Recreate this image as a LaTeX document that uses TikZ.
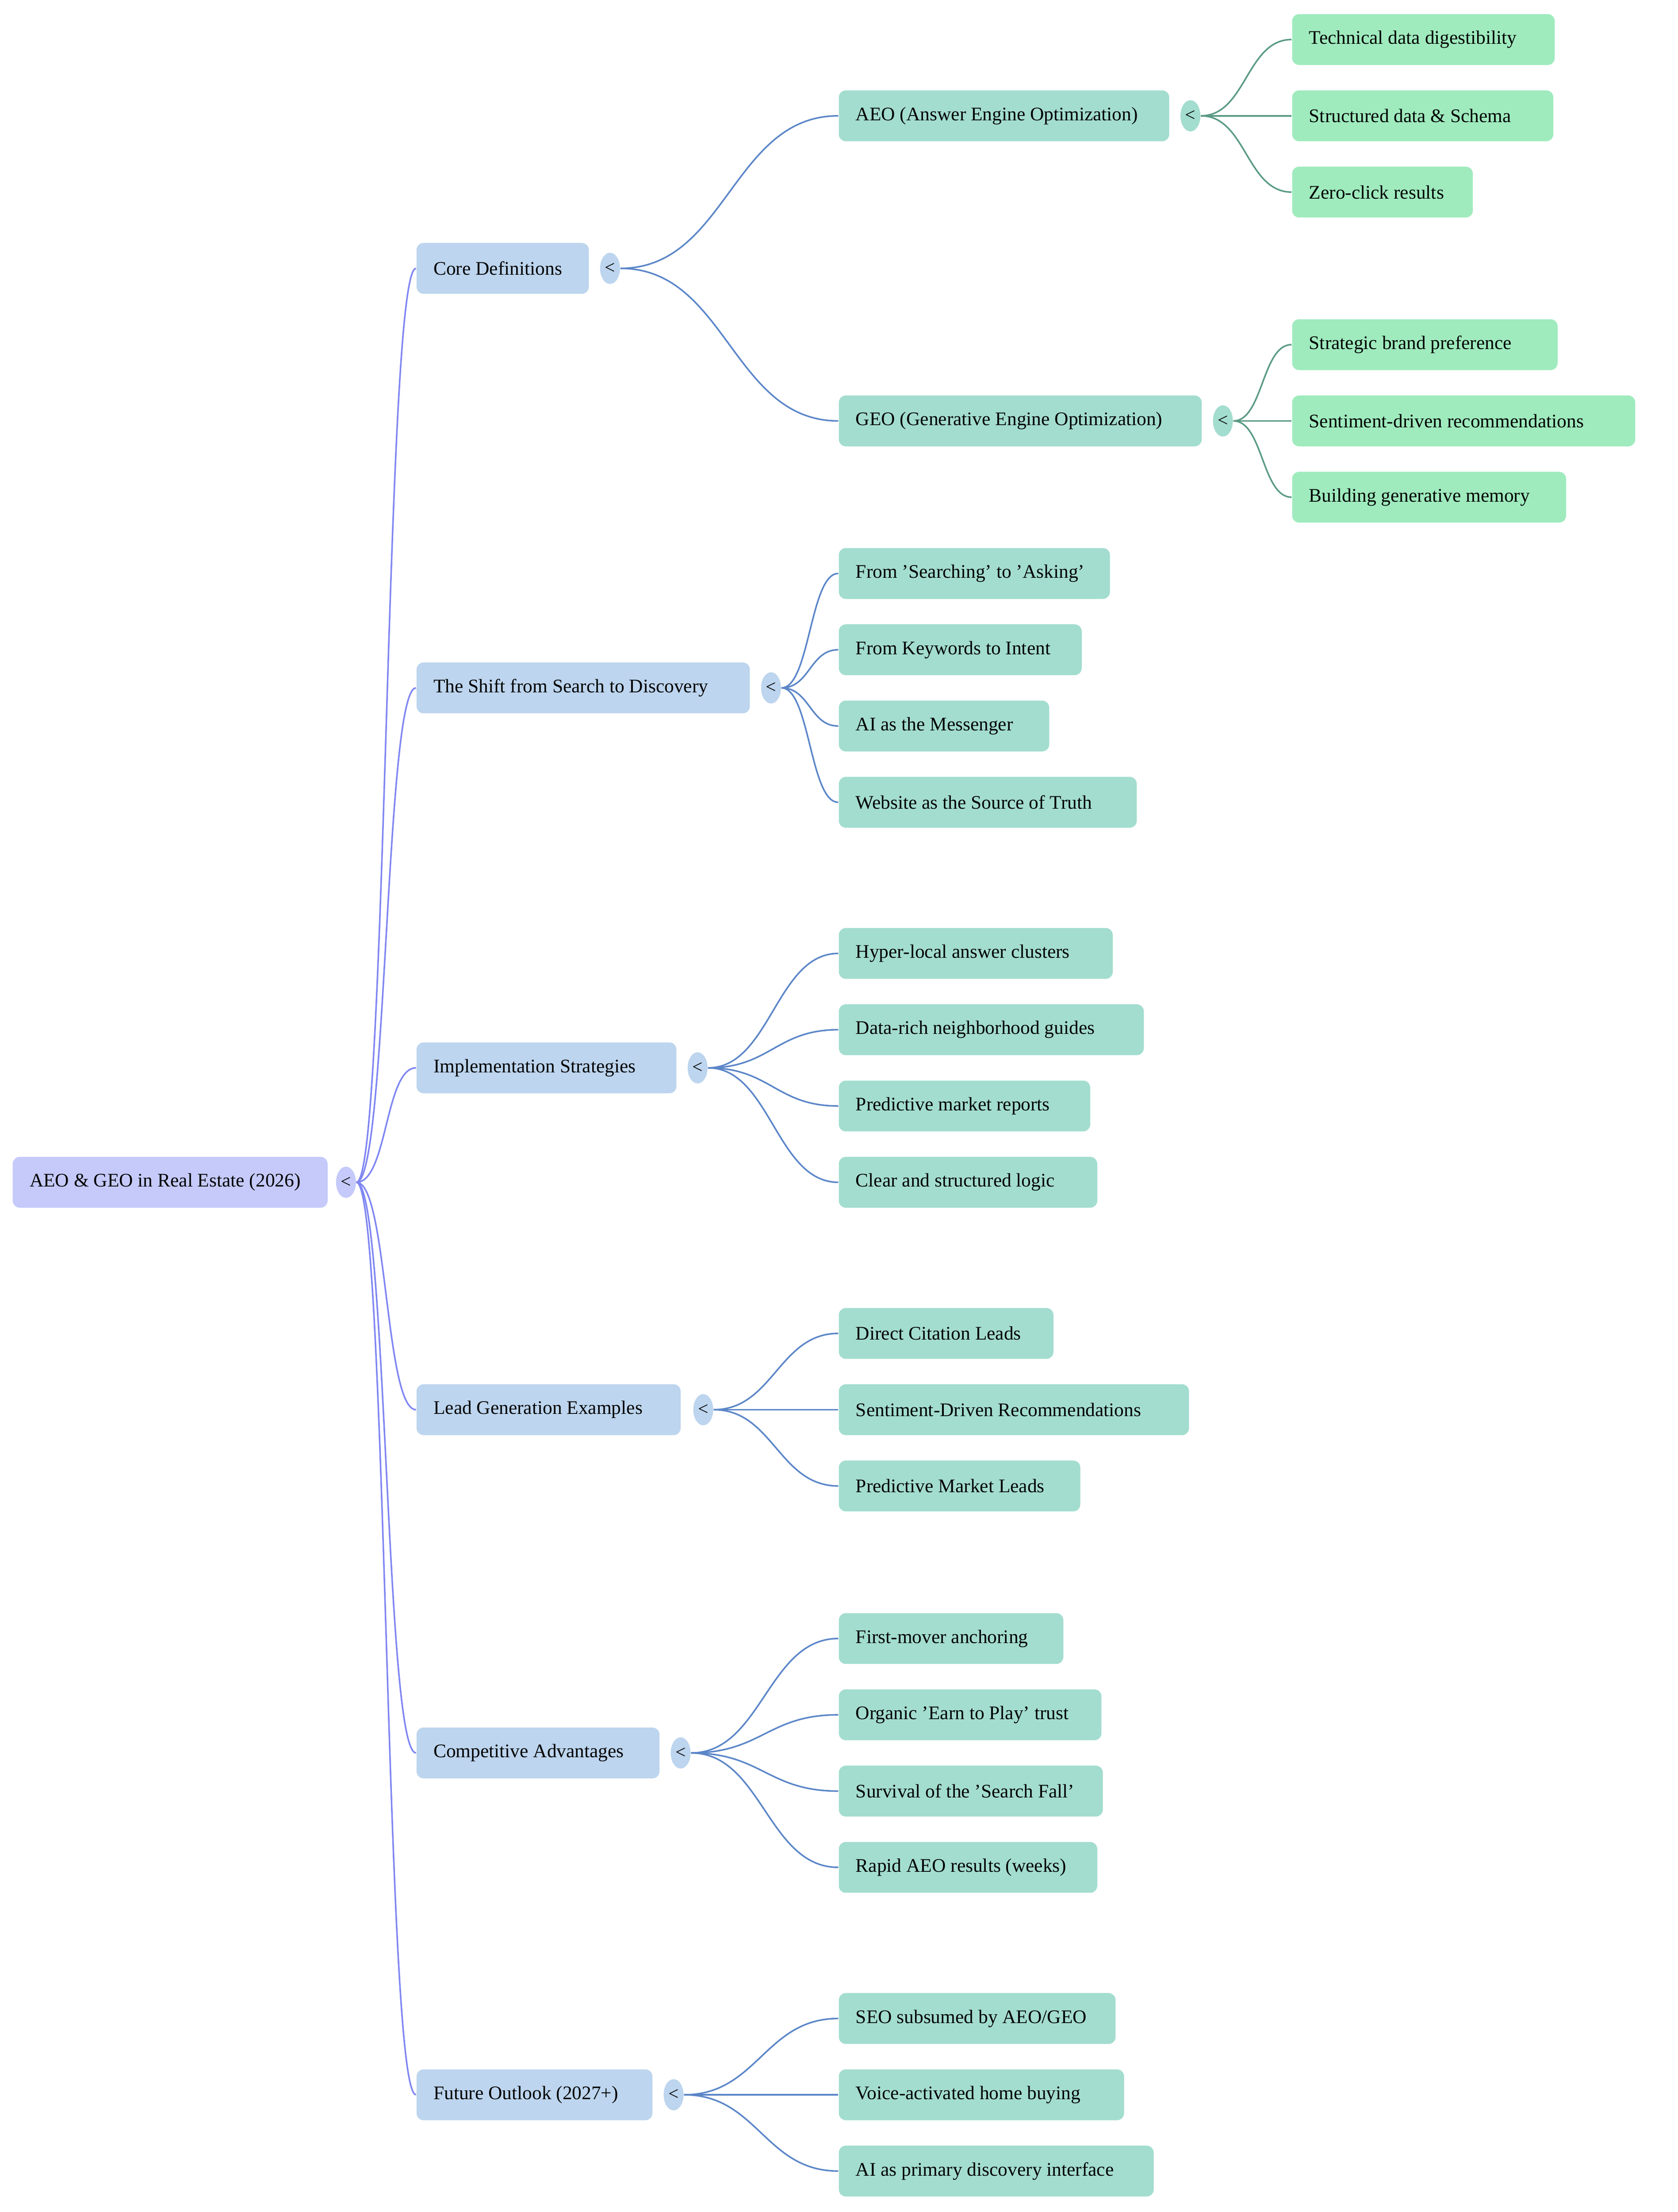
\documentclass[tikz,border=0pt]{standalone}
\usepackage{fontspec}
\setmainfont{Liberation Serif}
\usetikzlibrary{fit,shapes.geometric}
\definecolor{rootf}{HTML}{C5CAFB}
\definecolor{rootl}{HTML}{7F86F2}
\definecolor{lonef}{HTML}{BDD5EE}
\definecolor{lonel}{HTML}{5B86C8}
\definecolor{ltwof}{HTML}{A3DDCF}
\definecolor{ltwol}{HTML}{5A9A85}
\definecolor{lthrf}{HTML}{9FEBBE}
\tikzset{
  box/.style={rounded corners=2.5pt, inner sep=0pt, draw=none},
  lab/.style={anchor=west, inner sep=0pt, font=\fontsize{6.8}{8}\selectfont},
  cir/.style={ellipse, inner sep=0pt, minimum width=7pt, minimum height=11pt, font=\fontsize{6.5}{7}\selectfont},
  e0/.style={draw=rootl, line width=0.55pt},
  e1/.style={draw=lonel, line width=0.55pt},
  e2/.style={draw=ltwol, line width=0.55pt},
}
% \mybox{name}{x1}{x2}{yc}{fill}{text}
\newcommand{\mybox}[6]{%
  \node[box, fill=#5, fit={(#2,#4-18)(#3,#4+18)}] (#1) {};
  \node[lab] (#1-t) at ($(#1.west)+(12,0)$) {#6};}
\newcommand{\mycir}[4]{\node[cir, fill=#4] (#1) at (#2,#3) {<};}
\usetikzlibrary{calc}
\begin{document}
\begin{tikzpicture}[x=0.5pt,y=-0.5pt]
\useasboundingbox (0,0) rectangle (1188.2,1566);
% root
\mybox{root}{9}{232}{837}{rootf}{AEO \& GEO in Real Estate (2026)}
\mycir{croot}{245}{837}{rootf}
% level 1
\mybox{core}{295}{417}{190}{lonef}{Core Definitions}
\mycir{ccore}{432}{190}{lonef}
\mybox{shift}{295}{531}{487}{lonef}{The Shift from Search to Discovery}
\mycir{cshift}{546}{487}{lonef}
\mybox{impl}{295}{479}{756}{lonef}{Implementation Strategies}
\mycir{cimpl}{494}{756}{lonef}
\mybox{lead}{295}{482}{998}{lonef}{Lead Generation Examples}
\mycir{clead}{498}{998}{lonef}
\mybox{comp}{295}{467}{1241}{lonef}{Competitive Advantages}
\mycir{ccomp}{482}{1241}{lonef}
\mybox{fut}{295}{462}{1483}{lonef}{Future Outlook (2027+)}
\mycir{cfut}{477}{1483}{lonef}
% level 2 under core
\mybox{aeo}{594}{828}{82}{ltwof}{AEO (Answer Engine Optimization)}
\mycir{caeo}{843}{82}{ltwof}
\mybox{geo}{594}{851}{298}{ltwof}{GEO (Generative Engine Optimization)}
\mycir{cgeo}{866}{298}{ltwof}
% level 3
\mybox{a1}{915}{1101}{28}{lthrf}{Technical data digestibility}
\mybox{a2}{915}{1100}{82}{lthrf}{Structured data \& Schema}
\mybox{a3}{915}{1043}{136}{lthrf}{Zero-click results}
\mybox{g1}{915}{1103}{244}{lthrf}{Strategic brand preference}
\mybox{g2}{915}{1158}{298}{lthrf}{Sentiment-driven recommendations}
\mybox{g3}{915}{1109}{352}{lthrf}{Building generative memory}
% shift children
\mybox{s1}{594}{786}{406}{ltwof}{From 'Searching' to 'Asking'}
\mybox{s2}{594}{766}{460}{ltwof}{From Keywords to Intent}
\mybox{s3}{594}{743}{514}{ltwof}{AI as the Messenger}
\mybox{s4}{594}{805}{568}{ltwof}{Website as the Source of Truth}
% impl children
\mybox{i1}{594}{788}{675}{ltwof}{Hyper-local answer clusters}
\mybox{i2}{594}{810}{729}{ltwof}{Data-rich neighborhood guides}
\mybox{i3}{594}{772}{783}{ltwof}{Predictive market reports}
\mybox{i4}{594}{777}{837}{ltwof}{Clear and structured logic}
% lead children
\mybox{l1}{594}{746}{944}{ltwof}{Direct Citation Leads}
\mybox{l2}{594}{842}{998}{ltwof}{Sentiment-Driven Recommendations}
\mybox{l3}{594}{765}{1052}{ltwof}{Predictive Market Leads}
% comp children
\mybox{k1}{594}{753}{1160}{ltwof}{First-mover anchoring}
\mybox{k2}{594}{780}{1214}{ltwof}{Organic 'Earn to Play' trust}
\mybox{k3}{594}{781}{1268}{ltwof}{Survival of the 'Search Fall'}
\mybox{k4}{594}{777}{1322}{ltwof}{Rapid AEO results (weeks)}
% future children
\mybox{f1}{594}{790}{1429}{ltwof}{SEO subsumed by AEO/GEO}
\mybox{f2}{594}{796}{1483}{ltwof}{Voice-activated home buying}
\mybox{f3}{594}{817}{1537}{ltwof}{AI as primary discovery interface}
% edges
\foreach \n in {core,shift,impl,lead,comp,fut}
  \draw[e0] (croot.east) .. controls +(22,0) and +(-22,0) .. (\n.west);
\foreach \n in {aeo,geo}
  \draw[e1] (ccore.east) .. controls +(75,0) and +(-75,0) .. (\n.west);
\foreach \n in {a1,a2,a3}
  \draw[e2] (caeo.east) .. controls +(32,0) and +(-32,0) .. (\n.west);
\foreach \n in {g1,g2,g3}
  \draw[e2] (cgeo.east) .. controls +(21,0) and +(-21,0) .. (\n.west);
\foreach \n in {s1,s2,s3,s4}
  \draw[e1] (cshift.east) .. controls +(20,0) and +(-20,0) .. (\n.west);
\foreach \n in {i1,i2,i3,i4}
  \draw[e1] (cimpl.east) .. controls +(44,0) and +(-44,0) .. (\n.west);
\foreach \n in {l1,l2,l3}
  \draw[e1] (clead.east) .. controls +(42,0) and +(-42,0) .. (\n.west);
\foreach \n in {k1,k2,k3,k4}
  \draw[e1] (ccomp.east) .. controls +(50,0) and +(-50,0) .. (\n.west);
\foreach \n in {f1,f2,f3}
  \draw[e1] (cfut.east) .. controls +(52,0) and +(-52,0) .. (\n.west);
% redraw circles on top
\mycir{croot}{245}{837}{rootf}
\mycir{ccore}{432}{190}{lonef}
\mycir{cshift}{546}{487}{lonef}
\mycir{cimpl}{494}{756}{lonef}
\mycir{clead}{498}{998}{lonef}
\mycir{ccomp}{482}{1241}{lonef}
\mycir{cfut}{477}{1483}{lonef}
\mycir{caeo}{843}{82}{ltwof}
\mycir{cgeo}{866}{298}{ltwof}
\end{tikzpicture}
\end{document}
